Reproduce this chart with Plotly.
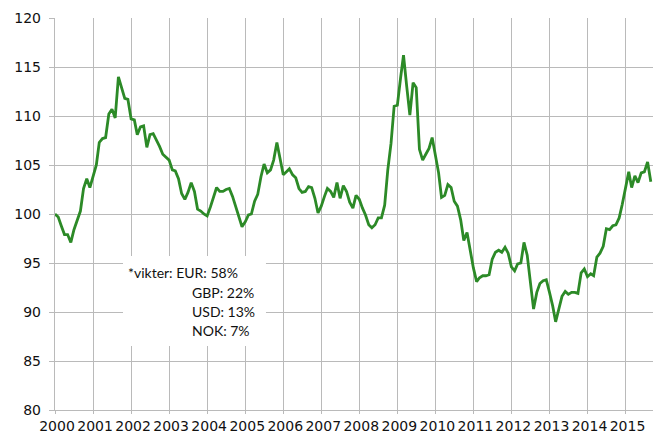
import pandas as pd
import plotly.graph_objects as go

# Monthly index values, Jan 2000 - Sep 2015
values = [
    # 2000
    100.0, 99.7, 98.8, 97.9, 97.9, 97.1, 98.4, 99.4, 100.3, 102.6, 103.6, 102.7,
    # 2001
    103.9, 105.0, 107.3, 107.7, 107.8, 110.2, 110.7, 109.8, 114.0, 113.0, 111.8, 111.7,
    # 2002
    109.7, 109.6, 108.1, 108.9, 109.0, 106.8, 108.1, 108.2, 107.6, 106.9, 106.1, 105.8,
    # 2003
    105.5, 104.5, 104.4, 103.6, 102.1, 101.5, 102.2, 103.2, 102.3, 100.5, 100.3, 100.0,
    # 2004
    99.8, 100.7, 101.8, 102.7, 102.3, 102.3, 102.5, 102.6, 101.8, 100.7, 99.6, 98.7,
    # 2005
    99.2, 99.9, 100.0, 101.3, 102.0, 103.8, 105.1, 104.2, 104.5, 105.5, 107.3, 105.8,
    # 2006
    104.0, 104.3, 104.6, 104.0, 103.7, 102.6, 102.2, 102.3, 102.8, 102.7, 101.6, 100.1,
    # 2007
    100.8, 101.8, 102.6, 102.3, 101.7, 103.2, 101.6, 102.9, 102.3, 101.2, 100.6, 101.9,
    # 2008
    101.5, 100.6, 99.9, 98.9, 98.6, 98.9, 99.6, 99.6, 100.9, 104.5, 107.2, 111.0,
    # 2009
    111.1, 113.9, 116.2, 113.0, 110.1, 113.4, 112.9, 106.6, 105.5, 106.1, 106.7, 107.8,
    # 2010
    106.1, 104.2, 101.7, 101.9, 103.0, 102.7, 101.3, 100.8, 99.4, 97.3, 98.1, 96.2,
    # 2011
    94.5, 93.1, 93.5, 93.7, 93.7, 93.8, 95.4, 96.1, 96.3, 96.1, 96.6, 96.0,
    # 2012
    94.6, 94.2, 94.9, 95.0, 97.1, 95.8, 93.1, 90.3, 92.0, 92.9, 93.2, 93.3,
    # 2013
    92.0, 90.6, 89.0, 90.4, 91.6, 92.1, 91.8, 92.0, 92.0, 91.9, 94.0, 94.4,
    # 2014
    93.6, 93.9, 93.7, 95.6, 96.0, 96.7, 98.5, 98.4, 98.8, 98.9, 99.6, 101.0,
    # 2015
    102.8, 104.3, 102.7, 103.9, 103.2, 104.2, 104.3, 105.3, 103.3,
]
start_month = "2000-01-01"
months = pd.date_range(start_month, periods=len(values), freq="MS")

years = list(range(2000, 2016))
year_ticks = [f"{y}-01-01" for y in years]
year_labels = [str(y) for y in years]

y_ticks = [80, 85, 90, 95, 100, 105, 110, 115, 120]

note_first = "*vikter: EUR: 58%"
note_rest = ["GBP: 22%", "USD: 13%", "NOK: 7%"]

GRID = "#bababa"
LINE = "#2c8a27"

fig = go.Figure()
fig.add_trace(go.Scatter(
    x=months, y=values, mode="lines",
    line=dict(color=LINE, width=2.8),
    hoverinfo="skip", showlegend=False,
))

# the page body adds an 8px offset, so the figure is 8px smaller
fig.update_layout(
    width=654, height=426,
    margin=dict(l=47, r=9, t=10, b=24),
    paper_bgcolor="white", plot_bgcolor="white",
    font=dict(family="DejaVu Sans", size=14, color="#111111"),
    showlegend=False,
)
fig.update_xaxes(
    type="date",
    range=["2000-01-01", "2015-09-22"],
    tickvals=year_ticks, ticktext=year_labels,
    showgrid=True, gridcolor=GRID, gridwidth=1.4,
    ticks="outside", ticklen=3, tickcolor=GRID, tickwidth=1.4,
    showline=True, linecolor=GRID, linewidth=1.4,
    tickfont=dict(family="DejaVu Sans", size=14, color="#111111"),
    ticklabelshift=2,
    zeroline=False, automargin=False,
)
fig.update_yaxes(
    range=[80, 120],
    tickvals=y_ticks,
    showgrid=True, gridcolor=GRID, gridwidth=1.4,
    ticks="outside", ticklen=5, tickcolor=GRID, tickwidth=1.4,
    showline=True, linecolor=GRID, linewidth=1.4,
    tickfont=dict(family="DejaVu Sans", size=14, color="#111111"),
    ticklabelstandoff=5,
    zeroline=False, automargin=False,
)

# white box behind the weights note
fig.add_shape(type="rect", xref="paper", yref="paper",
              x0=0.1137, x1=0.3528, y0=0.1635, y1=0.393,
              fillcolor="white", line=dict(width=0), layer="above")

note_font = dict(family="Lato", size=14, color="#111111")
fig.add_annotation(text=note_first, xref="paper", yref="paper",
                   x=0.1195, y=0.3506, xanchor="left", yanchor="middle",
                   showarrow=False, font=note_font)
for k, t in enumerate(note_rest):
    fig.add_annotation(text=t, xref="paper", yref="paper",
                       x=0.2265, y=[0.2995, 0.2516, 0.2031][k],
                       xanchor="left", yanchor="middle",
                       showarrow=False, font=note_font)

fig.write_html("out.html")
